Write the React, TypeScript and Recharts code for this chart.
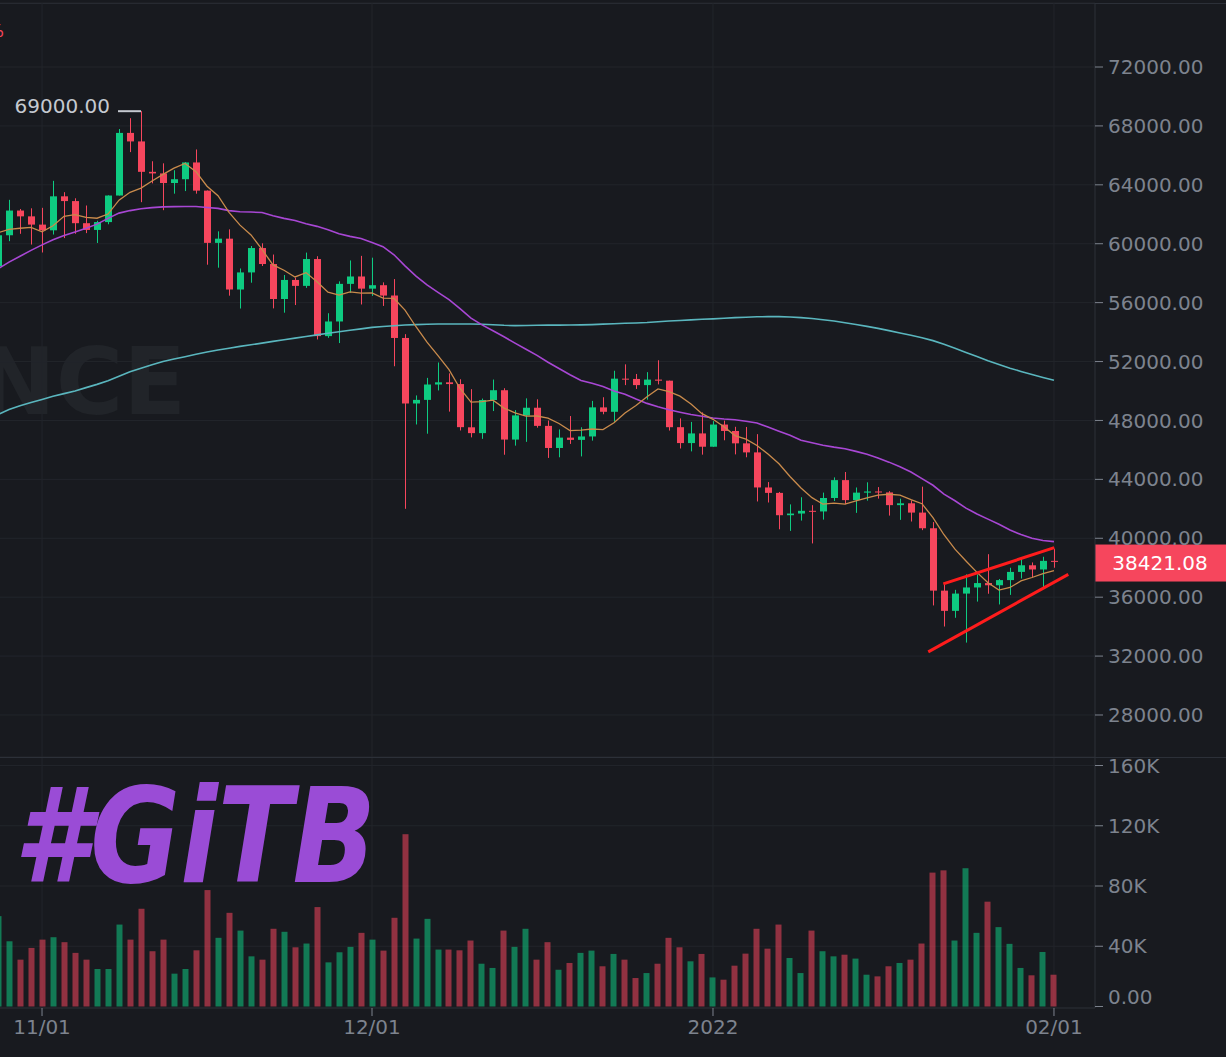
import React from 'react';
import {
  ComposedChart,
  Bar,
  Line,
  XAxis,
  YAxis,
  CartesianGrid,
  ReferenceLine,
  ReferenceDot,
} from 'recharts';

// ---------- DATA (BTC/USDT daily, 10/28/2021 – 02/01/2022) ----------
const firstDay = -4; // day offset of the first candle relative to 11/01

const dates = [
  '10/28', '10/29', '10/30', '10/31',
  '11/01', '11/02', '11/03', '11/04', '11/05', '11/06', '11/07', '11/08', '11/09', '11/10',
  '11/11', '11/12', '11/13', '11/14', '11/15', '11/16', '11/17', '11/18', '11/19', '11/20',
  '11/21', '11/22', '11/23', '11/24', '11/25', '11/26', '11/27', '11/28', '11/29', '11/30',
  '12/01', '12/02', '12/03', '12/04', '12/05', '12/06', '12/07', '12/08', '12/09', '12/10',
  '12/11', '12/12', '12/13', '12/14', '12/15', '12/16', '12/17', '12/18', '12/19', '12/20',
  '12/21', '12/22', '12/23', '12/24', '12/25', '12/26', '12/27', '12/28', '12/29', '12/30', '12/31',
  '01/01', '01/02', '01/03', '01/04', '01/05', '01/06', '01/07', '01/08', '01/09', '01/10',
  '01/11', '01/12', '01/13', '01/14', '01/15', '01/16', '01/17', '01/18', '01/19', '01/20',
  '01/21', '01/22', '01/23', '01/24', '01/25', '01/26', '01/27', '01/28', '01/29', '01/30', '01/31',
  '02/01',
];

const opens = [
  58470, 60575, 62253, 61859,
  61299, 60911, 63219, 62896, 61395, 60937, 61470, 63273, 67525, 66947,
  64882, 64774, 64122, 64380, 65519, 63606, 60058, 60344, 56892, 58052,
  59707, 58622, 56247, 57541, 57138, 58960, 53726, 54721, 57274, 57776,
  56950, 57184, 56484, 53601, 49152, 49397, 50441, 50589, 50471, 47535,
  47140, 49389, 50053, 46702, 48336, 48864, 47632, 46131, 46834, 46681,
  46914, 48887, 48588, 50838, 50819, 50400, 50775, 50701, 47543, 46464, 47120,
  46217, 47722, 47286, 46446, 45832, 43451, 43082, 41566, 41679, 41864,
  41822, 42735, 43949, 42591, 43099, 43177, 43113, 42250, 42375, 41744,
  40680, 36445, 35071, 36244, 36660, 36958, 36809, 37160, 37716, 38166, 37881,
  38466,
];

const highs = [
  62499, 62980, 62359, 62405,
  62437, 64270, 63500, 63086, 62595, 61560, 63286, 67789, 68524, 69000,
  65600, 65459, 64990, 65550, 66401, 63617, 60840, 60976, 58320, 59845,
  60029, 59266, 57875, 57700, 59398, 59150, 55280, 57445, 58865, 59176,
  59053, 57375, 57600, 53859, 49699, 50891, 51936, 51200, 50797, 50125,
  49485, 50777, 50189, 48700, 49500, 49436, 47995, 47392, 48300, 47537,
  49328, 49576, 51375, 51810, 51156, 51280, 52088, 50704, 48139, 47900, 48548,
  47954, 47990, 47570, 47557, 47070, 43816, 43145, 42300, 42786, 42248,
  43100, 44135, 44500, 43448, 43800, 43476, 43200, 42691, 42574, 43505,
  41100, 36835, 36499, 37550, 37545, 38919, 37234, 38000, 38720, 38359, 38744,
  39265,
];

const lows = [
  57820, 60174, 60673, 59945,
  59405, 60624, 60382, 60677, 60721, 60050, 61322, 63273, 66222, 62822,
  64100, 62278, 63400, 63576, 63400, 58575, 58373, 56474, 55600, 57353,
  58486, 55610, 55317, 55837, 57000, 53500, 53610, 53256, 56666, 55875,
  56458, 55777, 51680, 42000, 47727, 47100, 50039, 48600, 47320, 46852,
  46751, 48638, 45672, 46290, 46547, 47511, 45456, 45500, 46406, 45558,
  46630, 48421, 47920, 50400, 50142, 49412, 50449, 47313, 46096, 45900, 45678,
  46208, 46654, 45696, 45500, 42500, 42430, 40610, 40501, 41200, 39650,
  41268, 42528, 42311, 41725, 42555, 42693, 41540, 41250, 41138, 40553,
  35440, 34008, 34601, 32917, 35701, 36234, 35507, 36155, 37268, 37351, 36632,
  38000,
];

const closes = [
  60575, 62253, 61859, 61299,
  60911, 63219, 62896, 61395, 60937, 61470, 63273, 67525, 66947, 64882,
  64774, 64122, 64380, 65519, 63606, 60058, 60344, 56892, 58052, 59707,
  58622, 56247, 57541, 57138, 58960, 53726, 54721, 57274, 57776, 56950,
  57184, 56480, 53601, 49152, 49397, 50441, 50589, 50471, 47545, 47140,
  49389, 50053, 46702, 48343, 48864, 47632, 46131, 46834, 46681, 46914,
  48889, 48588, 50838, 50820, 50400, 50775, 50701, 47543, 46464, 47120, 46216,
  47722, 47286, 46446, 45832, 43451, 43082, 41566, 41679, 41864, 41822,
  42735, 43949, 42591, 43099, 43177, 43113, 42250, 42375, 41744, 40680,
  36445, 35071, 36244, 36660, 36958, 36809, 37160, 37716, 38166, 37881, 38466,
  38421.08,
];

const volumes = [
  60000, 43300, 31100, 38900,
  44400, 46000, 42700, 35600, 31100, 24900, 24900, 54400, 44400, 64900,
  36700, 44400, 21800, 24900, 37300, 77300, 45600, 62200, 50400, 33300,
  31100, 51600, 49600, 39300, 41800, 66000, 29300, 36000, 39600, 48900,
  44400, 37100, 58900, 114400, 45100, 58200, 37800, 37800, 37300, 43800,
  28400, 25600, 50400, 39600, 51600, 31100, 42700, 24400, 28900, 35600,
  37100, 26700, 34900, 31100, 18900, 22200, 28400, 45600, 39300, 30000, 34900,
  19300, 17800, 27100, 35100, 51600, 38400, 54400, 32200, 22200, 50400,
  36700, 33300, 34400, 31800, 21100, 20000, 26700, 28900, 31100, 41800,
  88900, 90400, 43800, 91800, 48900, 69600, 52700, 41600, 25600, 20700, 36200,
  21100,
];

const ma7 = [
  60746, 60969, 61051, 61115,
  60805, 61218, 61859, 61976, 61788, 61732, 62014, 62959, 63492, 63776,
  64258, 64713, 65129, 65450, 64890, 63906, 63258, 62132, 61264, 60597,
  59612, 58560, 58201, 57743, 58038, 57420, 56708, 56515, 56734, 56649,
  56656, 56302, 56284, 55488, 54363, 53315, 52406, 51447, 50171, 49248,
  49282, 49375, 48841, 48520, 48291, 48303, 48159, 47794, 47312, 47343,
  47421, 47381, 47839, 48509, 49019, 49603, 50144, 49952, 49649, 49118, 48460,
  48077, 47579, 46971, 46727, 46296, 45719, 45055, 44192, 43417, 42757,
  42314, 42385, 42315, 42534, 42748, 42927, 42988, 42936, 42621, 42348,
  41398, 40240, 39258, 38460, 37686, 36981, 36478, 36660, 37102, 37336, 37594,
  37803,
];

const ma25 = [
  58300, 58750, 59150, 59550,
  59920, 60270, 60560, 60800, 61050, 61330, 61720, 62080, 62250, 62380,
  62450, 62500, 62520, 62530, 62530, 62460, 62400, 62250, 62170, 62150,
  62120, 61900, 61720, 61580, 61350, 61180, 60950, 60680, 60500, 60350,
  60080, 59800, 59250, 58500, 57800, 57200, 56700, 56200, 55600, 54950,
  54490, 54090, 53680, 53250, 52840, 52420, 51950, 51530, 51100, 50720,
  50520, 50300, 50000, 49780, 49450, 49160, 48930, 48730, 48560, 48400, 48290,
  48170, 48100, 48050, 47950, 47830, 47550, 47270, 47000, 46650, 46480,
  46320, 46190, 46080, 45900, 45700, 45450, 45170, 44860, 44500, 44050,
  43600, 43000, 42550, 42050, 41650, 41300, 40950, 40560, 40250, 40000, 39850,
  39770,
];

const ma99 = [
  48400, 48750, 49000, 49220,
  49430, 49640, 49820, 50000, 50230, 50450, 50700, 51000, 51300, 51550,
  51780, 52000, 52170, 52330, 52500, 52650, 52780, 52900, 53030, 53140,
  53250, 53370, 53480, 53590, 53700, 53810, 53920, 54020, 54120, 54220,
  54320, 54380, 54430, 54480, 54510, 54530, 54550, 54550, 54550, 54550,
  54530, 54500, 54460, 54440, 54450, 54460, 54470, 54470, 54480, 54490,
  54510, 54540, 54570, 54600, 54620, 54650, 54700, 54750, 54790, 54830, 54870,
  54900, 54940, 54980, 55010, 55040, 55050, 55050, 55020, 54980, 54920,
  54840, 54750, 54640, 54520, 54390, 54250, 54100, 53940, 53780, 53620,
  53420, 53170, 52900, 52620, 52340, 52060, 51800, 51550, 51330, 51120, 50920,
  50730,
];

const xTickDays = [0, 30, 61, 92];
const xTickLabels = ['11/01', '12/01', '2022', '02/01'];
const priceTicks = [28000, 32000, 36000, 40000, 44000, 48000, 52000, 56000, 60000, 64000, 68000, 72000];
const volumeTicks = [0, 40000, 80000, 120000, 160000];
const volumeTickLabels = ['0.00', '40K', '80K', '120K', '160K'];

const lastPrice = 38421.08;
const athDay = 9;
const athPrice = 69000;

const wedgeUpperDays = [81.94, 92.03];
const wedgeUpperPrices = [36900, 39360];
const wedgeLowerDays = [80.57, 93.3];
const wedgeLowerPrices = [32290, 37550];

// ---------- STYLE ----------
const BG = '#181a1f';
const GRID = '#22252b';
const BORDER = '#2c3038';
const AXIS_TEXT = '#7d838e';
const UP = '#0ecb81';
const DOWN = '#f6465d';
const FONT = 'DejaVu Sans, sans-serif';
const X_DOMAIN: [number, number] = [-3.82, 95.73];

const rows = dates.map((d, i) => ({
  t: i + firstDay,
  date: d,
  open: opens[i],
  high: highs[i],
  low: lows[i],
  close: closes[i],
  range: [lows[i], highs[i]],
  volume: volumes[i],
  ma7: ma7[i],
  ma25: ma25[i],
  ma99: ma99[i],
}));

const Candle = (props: any) => {
  const { x, y, width, height, payload } = props;
  if (x == null || y == null || !payload) return null;
  const { open, close, high, low } = payload;
  const top = Math.min(y, y + height);
  const bottom = Math.max(y, y + height);
  const k = (bottom - top) / (high - low || 1);
  const yO = top + (high - open) * k;
  const yC = top + (high - close) * k;
  const color = close >= open ? UP : DOWN;
  const cx = Math.round(x + width / 2);
  const bodyTop = Math.min(yO, yC);
  const bodyH = Math.max(1, Math.abs(yO - yC));
  return (
    <g>
      <line x1={cx + 0.5} x2={cx + 0.5} y1={top} y2={bottom} stroke={color} strokeWidth={1} />
      <rect x={cx - 3} y={bodyTop} width={7} height={bodyH} fill={color} />
    </g>
  );
};

const VolumeBar = (props: any) => {
  const { x, y, width, height, payload } = props;
  if (x == null || y == null || !payload) return null;
  const color = payload.close >= payload.open ? UP : DOWN;
  const cx = Math.round(x + width / 2);
  return <rect x={cx - 2.5} y={y} width={6} height={Math.max(0, height)} fill={color} fillOpacity={0.55} />;
};

const VolumeTick = (props: any) => {
  const { x, y, payload } = props;
  const idx = volumeTicks.indexOf(payload.value);
  const shift = payload.value === 0 ? -10 : 0;
  return (
    <text x={x} y={y + shift} dy="0.355em" fill={AXIS_TEXT} fontSize={20} fontFamily={FONT} textAnchor="start">
      {idx >= 0 ? volumeTickLabels[idx] : ''}
    </text>
  );
};

const AthMarker = (props: any) => {
  const { cx, cy } = props;
  if (cx == null || cy == null) return null;
  return (
    <g>
      <line x1={cx - 23} x2={cx} y1={cy} y2={cy} stroke="#c5c9d0" strokeWidth={2} />
      <text x={cx - 31} y={cy} dy="0.1em" fill="#c5c9d0" fontSize={20} fontFamily={FONT} textAnchor="end">
        {athPrice.toFixed(2)}
      </text>
    </g>
  );
};

const PriceTag = (props: any) => {
  const vb = props.viewBox;
  if (!vb) return null;
  const left = vb.x + vb.width;
  return (
    <g>
      <rect x={left} y={vb.y - 17} width={131} height={37} fill={DOWN} />
      <text x={left + 65} y={vb.y + 1} dy="0.355em" fill="#ffffff" fontSize={20} fontFamily={FONT} textAnchor="middle">
        {lastPrice.toFixed(2)}
      </text>
    </g>
  );
};

export default function App() {
  return (
    <div style={{ position: 'fixed', left: 0, top: 0, width: 1226, height: 1057, background: BG, overflow: 'hidden' }}>
      {/* watermark */}
      <svg width={1226} height={1057} style={{ position: 'absolute', left: 0, top: 0 }}>
        <text x={186} y={414} textAnchor="end" fontFamily={FONT} fontWeight="bold" fontSize={92} fill="#212429">
          BINANCE
        </text>
        <text x={4} y={37} textAnchor="end" fontFamily={FONT} fontSize={17} fill={DOWN}>
          %
        </text>
      </svg>
      <div style={{ position: 'absolute', left: 0, top: 3, width: 1226, height: 1, background: BORDER }} />
      <div style={{ position: 'absolute', left: 0, top: 757, width: 1226, height: 1, background: BORDER }} />

      <div style={{ position: 'absolute', left: 0, top: 0 }}>
        <ComposedChart width={1226} height={757} data={rows} margin={{ top: 3, right: 0, bottom: 0, left: 0 }}>
          <CartesianGrid stroke={GRID} verticalValues={xTickDays} />
          <XAxis type="number" dataKey="t" domain={X_DOMAIN} allowDataOverflow hide ticks={xTickDays} />
          <YAxis
            orientation="right"
            width={131}
            domain={[25148, 76346]}
            allowDataOverflow
            ticks={priceTicks}
            interval={0}
            tickFormatter={(v: number) => v.toFixed(2)}
            tick={{ fill: AXIS_TEXT, fontSize: 20, fontFamily: FONT }}
            tickSize={8}
            tickMargin={5}
            tickLine={{ stroke: AXIS_TEXT }}
            axisLine={{ stroke: BORDER }}
          />
          <Bar dataKey="range" barSize={7} shape={Candle} isAnimationActive={false} />
          <Line dataKey="ma99" stroke="#5ab6be" strokeWidth={1.6} dot={false} activeDot={false} isAnimationActive={false} />
          <Line dataKey="ma25" stroke="#a847d4" strokeWidth={1.6} dot={false} activeDot={false} isAnimationActive={false} />
          <Line dataKey="ma7" stroke="#c98b4c" strokeWidth={1.3} dot={false} activeDot={false} isAnimationActive={false} />
          <ReferenceLine
            segment={[
              { x: wedgeUpperDays[0], y: wedgeUpperPrices[0] },
              { x: wedgeUpperDays[1], y: wedgeUpperPrices[1] },
            ]}
            stroke="#ff1c1c"
            strokeWidth={3}
            ifOverflow="visible"
          />
          <ReferenceLine
            segment={[
              { x: wedgeLowerDays[0], y: wedgeLowerPrices[0] },
              { x: wedgeLowerDays[1], y: wedgeLowerPrices[1] },
            ]}
            stroke="#ff1c1c"
            strokeWidth={3}
            ifOverflow="visible"
          />
          <ReferenceDot x={athDay} y={athPrice} r={0} shape={AthMarker} ifOverflow="visible" />
          <ReferenceLine y={lastPrice} stroke="none" ifOverflow="visible" label={PriceTag} />
        </ComposedChart>
      </div>

      <div style={{ position: 'absolute', left: 0, top: 737 }}>
        <ComposedChart width={1226} height={320} data={rows} margin={{ top: 21, right: 0, bottom: 0, left: 0 }}>
          <CartesianGrid stroke={GRID} verticalValues={xTickDays} horizontalValues={[40000, 80000, 120000, 160000]} />
          <XAxis
            type="number"
            dataKey="t"
            domain={X_DOMAIN}
            allowDataOverflow
            ticks={xTickDays}
            interval={0}
            height={49}
            tickFormatter={(v: number) => {
              const i = xTickDays.indexOf(v);
              return i >= 0 ? xTickLabels[i] : '';
            }}
            tick={{ fill: AXIS_TEXT, fontSize: 20, fontFamily: FONT }}
            tickSize={8}
            tickMargin={4}
            tickLine={{ stroke: AXIS_TEXT }}
            axisLine={{ stroke: BORDER }}
          />
          <YAxis
            orientation="right"
            width={131}
            domain={[-1000, 165000]}
            allowDataOverflow
            ticks={volumeTicks}
            interval={0}
            tick={VolumeTick}
            tickSize={8}
            tickMargin={5}
            tickLine={{ stroke: AXIS_TEXT }}
            axisLine={{ stroke: BORDER }}
          />
          <Bar dataKey="volume" barSize={6} shape={VolumeBar} isAnimationActive={false} />
        </ComposedChart>
      </div>

      {/* #GiTB logo */}
      <svg width={1226} height={1057} style={{ position: 'absolute', left: 0, top: 0, pointerEvents: 'none' }}>
        <text
          x={14}
          y={882}
          fontFamily={FONT}
          fontWeight="bold"
          fontStyle="italic"
          fontSize={132}
          fill="#9a4cd6"
          textLength={362}
          lengthAdjust="spacingAndGlyphs"
        >
          #GiTB
        </text>
      </svg>
    </div>
  );
}
